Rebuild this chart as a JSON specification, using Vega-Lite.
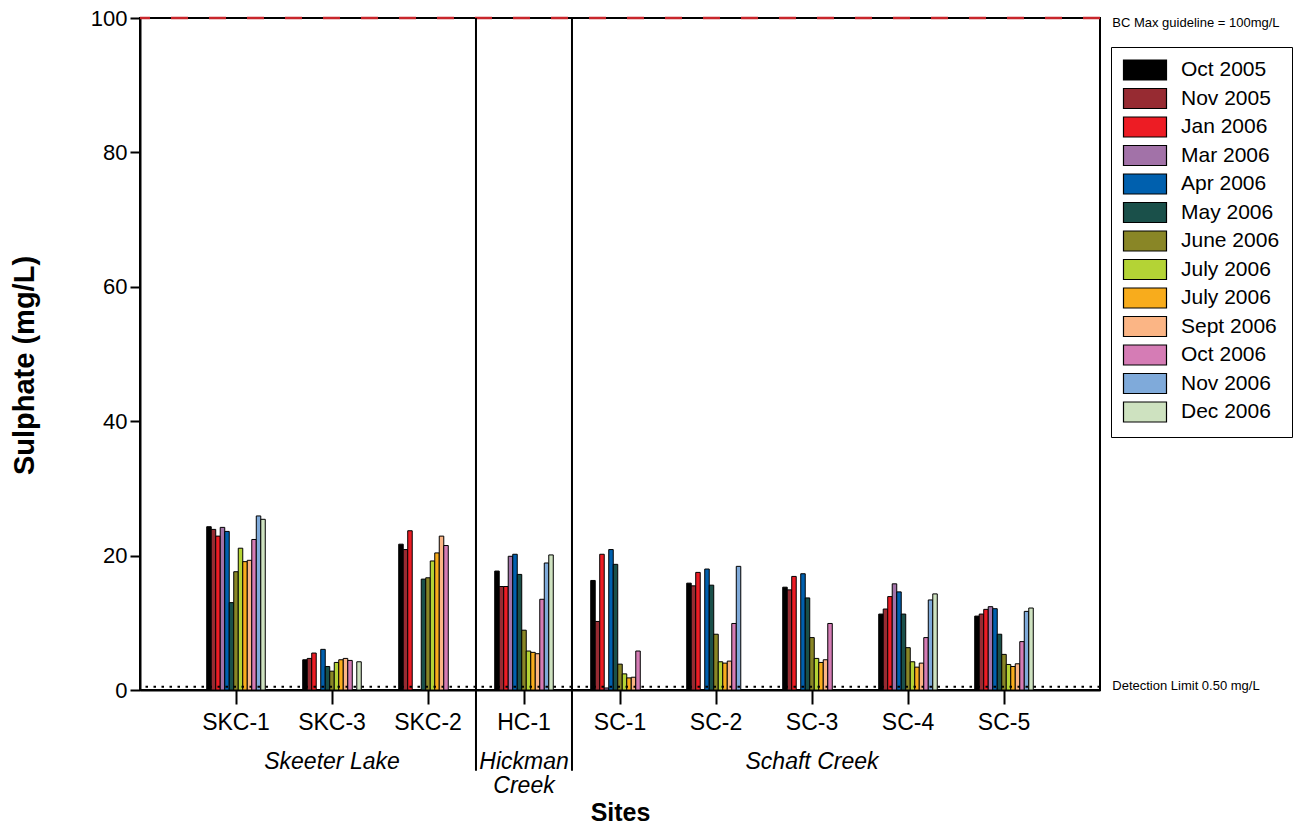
{
  "$schema": "https://vega.github.io/schema/vega-lite/v6.json",
  "autosize": "none",
  "width": 960,
  "height": 672,
  "padding": {"left": 140, "top": 18, "right": 201, "bottom": 137},
  "background": "white",
  "config": {
    "font": "Liberation Sans",
    "view": {"stroke": "black", "strokeWidth": 2},
    "axis": {"grid": false, "domainColor": "black", "domainWidth": 2, "tickColor": "black", "tickWidth": 2, "labelColor": "black", "titleColor": "black", "labelFont": "Liberation Sans", "titleFont": "Liberation Sans"},
    "legend": {"labelFont": "Liberation Sans"}
  },
  "datasets": {
    "sulphate": [
      {"site": "SKC-1", "month": "Oct 2005", "value": 24.3},
      {"site": "SKC-1", "month": "Nov 2005", "value": 23.9},
      {"site": "SKC-1", "month": "Jan 2006", "value": 22.9},
      {"site": "SKC-1", "month": "Mar 2006", "value": 24.2},
      {"site": "SKC-1", "month": "Apr 2006", "value": 23.6},
      {"site": "SKC-1", "month": "May 2006", "value": 13.0},
      {"site": "SKC-1", "month": "June 2006", "value": 17.6},
      {"site": "SKC-1", "month": "July 2006", "value": 21.1},
      {"site": "SKC-1", "month": "July 2006 (b)", "value": 19.1},
      {"site": "SKC-1", "month": "Sept 2006", "value": 19.3},
      {"site": "SKC-1", "month": "Oct 2006", "value": 22.4},
      {"site": "SKC-1", "month": "Nov 2006", "value": 25.9},
      {"site": "SKC-1", "month": "Dec 2006", "value": 25.4},
      {"site": "SKC-3", "month": "Oct 2005", "value": 4.5},
      {"site": "SKC-3", "month": "Nov 2005", "value": 4.7},
      {"site": "SKC-3", "month": "Jan 2006", "value": 5.5},
      {"site": "SKC-3", "month": "Apr 2006", "value": 6.05},
      {"site": "SKC-3", "month": "May 2006", "value": 3.5},
      {"site": "SKC-3", "month": "June 2006", "value": 2.8},
      {"site": "SKC-3", "month": "July 2006", "value": 4.1},
      {"site": "SKC-3", "month": "July 2006 (b)", "value": 4.5},
      {"site": "SKC-3", "month": "Sept 2006", "value": 4.7},
      {"site": "SKC-3", "month": "Oct 2006", "value": 4.4},
      {"site": "SKC-3", "month": "Dec 2006", "value": 4.2},
      {"site": "SKC-2", "month": "Oct 2005", "value": 21.7},
      {"site": "SKC-2", "month": "Nov 2005", "value": 20.9},
      {"site": "SKC-2", "month": "Jan 2006", "value": 23.7},
      {"site": "SKC-2", "month": "May 2006", "value": 16.5},
      {"site": "SKC-2", "month": "June 2006", "value": 16.7},
      {"site": "SKC-2", "month": "July 2006", "value": 19.2},
      {"site": "SKC-2", "month": "July 2006 (b)", "value": 20.4},
      {"site": "SKC-2", "month": "Sept 2006", "value": 22.9},
      {"site": "SKC-2", "month": "Oct 2006", "value": 21.5},
      {"site": "HC-1", "month": "Oct 2005", "value": 17.7},
      {"site": "HC-1", "month": "Nov 2005", "value": 15.4},
      {"site": "HC-1", "month": "Jan 2006", "value": 15.4},
      {"site": "HC-1", "month": "Mar 2006", "value": 19.9},
      {"site": "HC-1", "month": "Apr 2006", "value": 20.2},
      {"site": "HC-1", "month": "May 2006", "value": 17.2},
      {"site": "HC-1", "month": "June 2006", "value": 8.9},
      {"site": "HC-1", "month": "July 2006", "value": 5.8},
      {"site": "HC-1", "month": "July 2006 (b)", "value": 5.6},
      {"site": "HC-1", "month": "Sept 2006", "value": 5.4},
      {"site": "HC-1", "month": "Oct 2006", "value": 13.5},
      {"site": "HC-1", "month": "Nov 2006", "value": 18.9},
      {"site": "HC-1", "month": "Dec 2006", "value": 20.1},
      {"site": "SC-1", "month": "Oct 2005", "value": 16.3},
      {"site": "SC-1", "month": "Nov 2005", "value": 10.2},
      {"site": "SC-1", "month": "Jan 2006", "value": 20.2},
      {"site": "SC-1", "month": "Mar 2006", "value": 0.3},
      {"site": "SC-1", "month": "Apr 2006", "value": 20.9},
      {"site": "SC-1", "month": "May 2006", "value": 18.7},
      {"site": "SC-1", "month": "June 2006", "value": 3.85},
      {"site": "SC-1", "month": "July 2006", "value": 2.4},
      {"site": "SC-1", "month": "July 2006 (b)", "value": 1.8},
      {"site": "SC-1", "month": "Sept 2006", "value": 1.9},
      {"site": "SC-1", "month": "Oct 2006", "value": 5.8},
      {"site": "SC-2", "month": "Oct 2005", "value": 15.9},
      {"site": "SC-2", "month": "Nov 2005", "value": 15.5},
      {"site": "SC-2", "month": "Jan 2006", "value": 17.5},
      {"site": "SC-2", "month": "Apr 2006", "value": 18.0},
      {"site": "SC-2", "month": "May 2006", "value": 15.6},
      {"site": "SC-2", "month": "June 2006", "value": 8.3},
      {"site": "SC-2", "month": "July 2006", "value": 4.2},
      {"site": "SC-2", "month": "July 2006 (b)", "value": 4.0},
      {"site": "SC-2", "month": "Sept 2006", "value": 4.3},
      {"site": "SC-2", "month": "Oct 2006", "value": 9.9},
      {"site": "SC-2", "month": "Nov 2006", "value": 18.4},
      {"site": "SC-3", "month": "Oct 2005", "value": 15.3},
      {"site": "SC-3", "month": "Nov 2005", "value": 14.9},
      {"site": "SC-3", "month": "Jan 2006", "value": 16.9},
      {"site": "SC-3", "month": "Apr 2006", "value": 17.3},
      {"site": "SC-3", "month": "May 2006", "value": 13.7},
      {"site": "SC-3", "month": "June 2006", "value": 7.8},
      {"site": "SC-3", "month": "July 2006", "value": 4.7},
      {"site": "SC-3", "month": "July 2006 (b)", "value": 4.1},
      {"site": "SC-3", "month": "Sept 2006", "value": 4.5},
      {"site": "SC-3", "month": "Oct 2006", "value": 9.9},
      {"site": "SC-4", "month": "Oct 2005", "value": 11.3},
      {"site": "SC-4", "month": "Nov 2005", "value": 12.05},
      {"site": "SC-4", "month": "Jan 2006", "value": 13.9},
      {"site": "SC-4", "month": "Mar 2006", "value": 15.8},
      {"site": "SC-4", "month": "Apr 2006", "value": 14.6},
      {"site": "SC-4", "month": "May 2006", "value": 11.3},
      {"site": "SC-4", "month": "June 2006", "value": 6.3},
      {"site": "SC-4", "month": "July 2006", "value": 4.2},
      {"site": "SC-4", "month": "July 2006 (b)", "value": 3.4},
      {"site": "SC-4", "month": "Sept 2006", "value": 4.0},
      {"site": "SC-4", "month": "Oct 2006", "value": 7.8},
      {"site": "SC-4", "month": "Nov 2006", "value": 13.4},
      {"site": "SC-4", "month": "Dec 2006", "value": 14.3},
      {"site": "SC-5", "month": "Oct 2005", "value": 11.0},
      {"site": "SC-5", "month": "Nov 2005", "value": 11.3},
      {"site": "SC-5", "month": "Jan 2006", "value": 12.0},
      {"site": "SC-5", "month": "Mar 2006", "value": 12.4},
      {"site": "SC-5", "month": "Apr 2006", "value": 12.1},
      {"site": "SC-5", "month": "May 2006", "value": 8.3},
      {"site": "SC-5", "month": "June 2006", "value": 5.3},
      {"site": "SC-5", "month": "July 2006", "value": 3.8},
      {"site": "SC-5", "month": "July 2006 (b)", "value": 3.5},
      {"site": "SC-5", "month": "Sept 2006", "value": 3.9},
      {"site": "SC-5", "month": "Oct 2006", "value": 7.2},
      {"site": "SC-5", "month": "Nov 2006", "value": 11.7},
      {"site": "SC-5", "month": "Dec 2006", "value": 12.2}
    ],
    "separators": [{"site": "HC-1"}, {"site": "SC-1"}],
    "groups": [
      {"site": "SKC-3", "group": ["Skeeter Lake"]},
      {"site": "HC-1", "group": ["Hickman", "Creek"]},
      {"site": "SC-3", "group": ["Schaft Creek"]}
    ]
  },
  "layer": [
    {
      "data": {"name": "sulphate"},
      "mark": {"type": "bar", "stroke": "black", "strokeWidth": 1},
      "encoding": {
        "x": {
          "field": "site", "type": "nominal",
          "scale": {"type": "band", "domain": ["SKC-1", "SKC-3", "SKC-2", "HC-1", "SC-1", "SC-2", "SC-3", "SC-4", "SC-5"], "paddingInner": 0.39, "paddingOuter": 0.695},
          "axis": {"title": "Sites", "titleFontSize": 25, "titleFontWeight": "bold", "titlePadding": 66, "labelFontSize": 23, "labelAngle": 0, "tickSize": 14, "labelPadding": 7, "domain": true}
        },
        "xOffset": {
          "field": "month", "type": "nominal",
          "scale": {"domain": ["Oct 2005", "Nov 2005", "Jan 2006", "Mar 2006", "Apr 2006", "May 2006", "June 2006", "July 2006", "July 2006 (b)", "Sept 2006", "Oct 2006", "Nov 2006", "Dec 2006"], "paddingInner": 0, "paddingOuter": 0}
        },
        "y": {
          "field": "value", "type": "quantitative",
          "scale": {"domain": [0, 100], "nice": false},
          "axis": {"title": "Sulphate (mg/L)", "titleFontSize": 29, "titleFontWeight": "bold", "titlePadding": 51, "titleY": 347, "labelFontSize": 22, "tickSize": 10, "labelPadding": 3, "values": [0, 20, 40, 60, 80, 100]}
        },
        "color": {
          "field": "month", "type": "nominal",
          "scale": {
            "domain": ["Oct 2005", "Nov 2005", "Jan 2006", "Mar 2006", "Apr 2006", "May 2006", "June 2006", "July 2006", "July 2006 (b)", "Sept 2006", "Oct 2006", "Nov 2006", "Dec 2006"],
            "range": ["#000000", "#972b32", "#ed1c24", "#a272a8", "#0060ae", "#1a504a", "#898626", "#b4d335", "#f8ac1c", "#fbb585", "#d57cb5", "#7faada", "#cee2c0"]
          },
          "legend": {
            "title": null,
            "orient": "none", "legendX": 971, "legendY": 29,
            "strokeColor": "black", "fillColor": "white", "padding": 12,
            "symbolType": "M-1.05,-1H3.25V1H-1.05Z", "symbolSize": 400,
            "symbolStrokeColor": "black", "symbolStrokeWidth": 1.2, "symbolOpacity": 1,
            "labelFontSize": 21, "labelColor": "black", "labelOffset": 36, "rowPadding": 2.5,
            "labelExpr": "replace(datum.label, ' (b)', '')"
          }
        }
      }
    },
    {
      "data": {"values": [{}]},
      "mark": {"type": "rule", "color": "#c8262b", "strokeWidth": 2.5, "strokeDash": [17, 21]},
      "encoding": {"y": {"datum": 100, "type": "quantitative"}}
    },
    {
      "data": {"values": [{}]},
      "mark": {"type": "rule", "color": "black", "strokeWidth": 2, "strokeDash": [2.5, 5.5]},
      "encoding": {"y": {"datum": 0.5, "type": "quantitative"}}
    },
    {
      "data": {"name": "separators"},
      "mark": {"type": "rule", "color": "black", "strokeWidth": 2},
      "encoding": {
        "x": {"field": "site", "type": "nominal", "bandPosition": -0.32},
        "y": {"datum": 100, "type": "quantitative"},
        "y2": {"datum": -12}
      }
    },
    {
      "data": {"name": "groups"},
      "mark": {"type": "text", "fontSize": 23, "fontStyle": "italic", "baseline": "alphabetic", "align": "center", "dy": 79, "lineHeight": 24, "color": "black"},
      "encoding": {
        "x": {"field": "site", "type": "nominal", "bandPosition": 0.5},
        "y": {"datum": 0, "type": "quantitative"},
        "text": {"field": "group"}
      }
    },
    {
      "data": {"values": [{"label": "BC Max guideline = 100mg/L"}]},
      "mark": {"type": "text", "fontSize": 13, "align": "left", "baseline": "middle", "dx": 12, "dy": 5, "color": "black"},
      "encoding": {
        "x": {"datum": "SC-5", "type": "nominal", "bandPosition": 2.144},
        "y": {"datum": 100, "type": "quantitative"},
        "text": {"field": "label"}
      }
    },
    {
      "data": {"values": [{"label": "Detection Limit 0.50 mg/L"}]},
      "mark": {"type": "text", "fontSize": 13, "align": "left", "baseline": "middle", "dx": 12, "dy": -1, "color": "black"},
      "encoding": {
        "x": {"datum": "SC-5", "type": "nominal", "bandPosition": 2.144},
        "y": {"datum": 0.5, "type": "quantitative"},
        "text": {"field": "label"}
      }
    }
  ]
}
